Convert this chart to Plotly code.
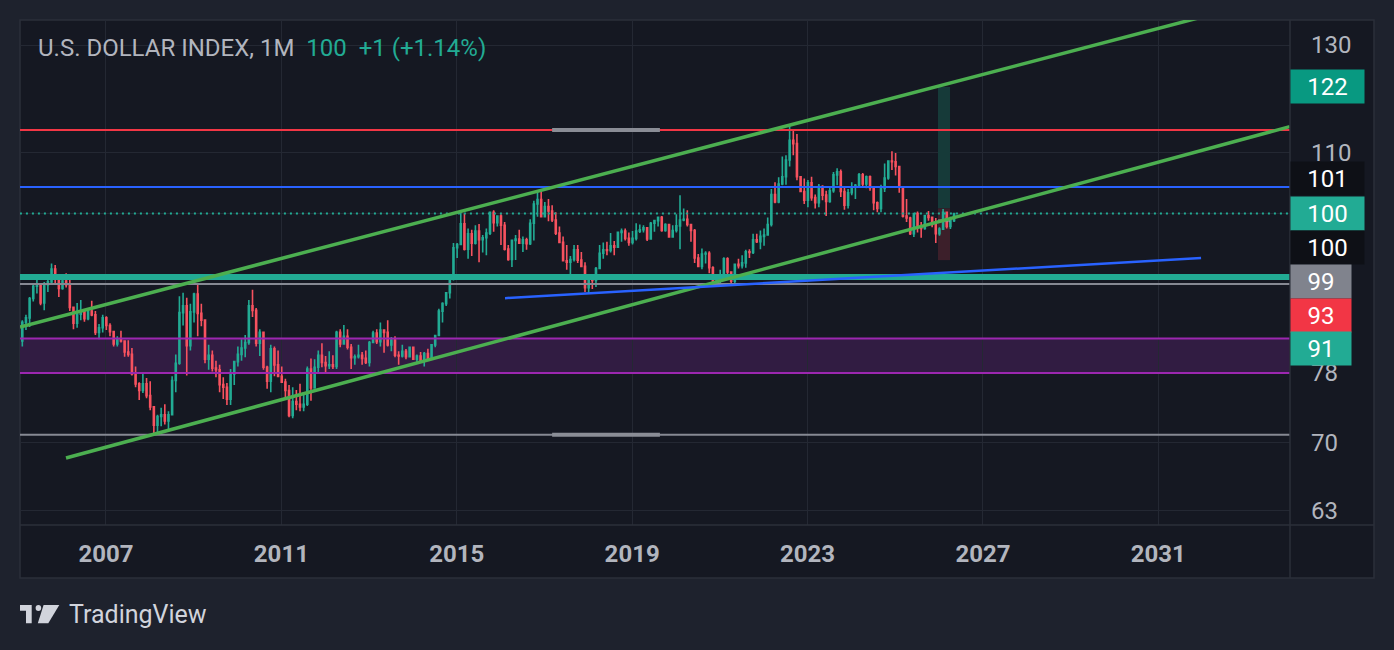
import math
import plotly.graph_objects as go

# ---------------- DATA ----------------
# Monthly candles of the U.S. Dollar Index (bar index: Jan 2005 = 0; first visible bar = Mar 2005)
FIRST_BAR_INDEX = 2
FIRST_OPEN = 82.0

closes = [
    # 2005 Mar-Dec
    84.4, 85.0, 87.6, 89.3, 89.6, 87.0, 89.5, 89.9, 91.7, 90.9,
    # 2006
    89.0, 90.0, 89.5, 86.4, 84.3, 85.5, 85.8, 84.9, 85.9, 85.4, 83.1, 83.7,
    # 2007
    85.0, 84.0, 83.2, 81.6, 82.2, 82.0, 80.6, 80.3, 77.9, 76.7, 75.9, 76.7,
    # 2008
    75.3, 74.0, 71.9, 72.9, 73.1, 72.4, 73.1, 77.1, 79.2, 85.7, 86.6, 81.4,
    # 2009
    85.8, 88.2, 85.6, 84.7, 79.7, 80.2, 78.6, 78.4, 76.6, 76.3, 74.9, 77.9,
    # 2010
    79.4, 80.3, 81.1, 81.8, 86.6, 86.0, 81.7, 83.1, 78.7, 77.0, 81.0, 79.0,
    # 2011
    77.6, 76.9, 75.9, 73.0, 74.6, 74.3, 74.0, 74.3, 78.5, 76.2, 78.7, 80.2,
    # 2012
    79.3, 78.9, 79.0, 78.8, 83.1, 81.6, 82.6, 81.2, 79.9, 80.0, 80.2, 79.8,
    # 2013
    79.3, 81.8, 83.0, 81.9, 83.4, 83.1, 81.5, 82.1, 80.2, 80.1, 80.7, 80.0,
    # 2014
    81.2, 79.7, 80.1, 79.5, 80.4, 79.8, 81.5, 82.7, 85.9, 86.9, 88.4, 90.3,
    # 2015
    94.8, 95.3, 98.4, 94.6, 96.9, 95.5, 97.3, 96.0, 96.3, 97.0, 100.2, 98.6,
    # 2016
    99.6, 98.2, 94.6, 93.1, 95.9, 96.1, 95.5, 96.0, 95.4, 98.5, 101.5, 102.2,
    # 2017
    99.5, 101.1, 100.4, 99.0, 97.0, 95.6, 92.9, 92.7, 93.1, 94.5, 93.0, 92.1,
    # 2018
    89.1, 90.6, 90.1, 91.8, 94.0, 94.5, 94.4, 95.1, 94.9, 97.1, 97.3, 96.2,
    # 2019
    95.6, 96.2, 97.3, 97.5, 97.8, 96.1, 98.5, 98.9, 99.4, 97.4, 98.3, 96.4,
    # 2020
    97.4, 98.1, 99.0, 99.1, 98.3, 97.4, 93.3, 92.1, 93.9, 94.0, 91.9, 89.9,
    # 2021
    90.6, 90.9, 93.2, 91.3, 90.0, 92.4, 92.2, 92.6, 94.2, 94.1, 96.0, 95.7,
    # 2022
    96.5, 96.7, 98.3, 103.0, 101.8, 104.7, 105.9, 108.7, 112.1, 111.5, 105.9, 103.5,
    # 2023
    102.1, 104.9, 102.5, 101.7, 104.3, 102.9, 101.9, 103.6, 106.2, 106.7, 103.5, 101.3,
    # 2024
    103.3, 104.2, 104.5, 106.2, 104.7, 105.9, 104.1, 101.7, 100.8, 104.0, 105.7, 108.5,
    # 2025
    108.4, 107.6, 104.2, 99.6, 99.3, 96.9, 100.0, 97.8, 97.7, 99.7, 99.4, 98.3,
    # 2026
    96.9, 97.6, 100.2, 98.0, 98.87, 100.0,
]

highs = [
    84.7, 85.4, 87.8, 89.5, 90.2, 89.7, 89.9, 90.2, 92.5, 92.3,
    91.0, 90.2, 91.1, 90.4, 86.5, 87.0, 87.4, 85.9, 86.3, 87.3, 85.9, 84.2,
    85.4, 85.2, 84.3, 83.2, 82.6, 83.3, 82.1, 82.1, 81.1, 78.8, 76.9, 77.9,
    77.4, 77.0, 74.1, 73.1, 73.9, 74.3, 73.5, 77.6, 80.3, 87.9, 88.4, 87.7,
    86.9, 88.4, 89.7, 86.9, 84.8, 81.5, 80.8, 79.5, 79.0, 77.5, 76.8, 78.5,
    79.5, 81.3, 82.2, 82.75, 87.4, 88.8, 86.3, 83.5, 83.2, 78.9, 81.5, 81.3,
    80.8, 78.8, 77.3, 76.55, 76.3, 75.96, 76.7, 75.7, 78.8, 79.8, 79.7, 80.8,
    81.7, 80.1, 80.7, 80.2, 83.3, 83.5, 84.05, 83.5, 81.6, 80.3, 81.5, 80.6,
    80.8, 82.0, 83.3, 83.5, 84.4, 83.4, 84.7, 82.5, 82.6, 80.7, 81.5, 80.97,
    81.3, 81.3, 80.3, 80.6, 80.6, 81.0, 81.6, 82.75, 86.2, 87.1, 88.5, 90.3,
    95.5, 95.5, 100.3, 100.0, 97.7, 97.5, 98.2, 98.4, 96.7, 97.7, 100.3, 100.5,
    99.75, 99.9, 98.7, 95.2, 95.9, 96.7, 97.5, 96.5, 96.3, 99.1, 102.0, 103.7,
    103.9, 101.8, 102.3, 101.3, 100.2, 98.0, 96.5, 95.2, 93.6, 95.2, 95.2, 94.2,
    92.7, 90.6, 90.9, 92.0, 95.2, 95.6, 95.7, 97.0, 95.8, 97.2, 97.7, 97.7,
    97.1, 97.3, 98.5, 98.3, 98.2, 97.8, 98.7, 99.0, 99.4, 99.6, 98.5, 98.4,
    98.2, 99.9, 102.9, 100.8, 100.5, 98.4, 97.6, 93.9, 94.7, 94.3, 94.3, 92.1,
    91.0, 91.6, 93.4, 93.4, 91.4, 92.5, 93.2, 93.7, 94.5, 94.6, 96.9, 96.9,
    97.4, 97.7, 99.4, 103.9, 105.0, 105.8, 109.3, 109.5, 114.8, 113.9, 113.2, 106.0,
    105.6, 105.35, 105.9, 103.0, 104.7, 104.5, 103.6, 104.4, 106.7, 107.3, 107.1, 104.2,
    103.9, 105.0, 104.7, 106.5, 106.5, 106.1, 106.1, 104.4, 101.9, 104.6, 108.1, 108.5,
    110.2, 109.9, 107.6, 104.4, 102.3, 99.5, 100.1, 100.3, 98.7, 99.8, 100.4, 99.5,
    99.3, 97.9, 100.7, 100.2, 99.5, 100.1,
]

lows = [
    81.3, 83.4, 83.8, 87.2, 88.3, 86.7, 86.0, 88.5, 89.7, 89.5,
    87.8, 88.8, 89.1, 85.9, 83.5, 83.7, 84.7, 84.5, 84.7, 85.2, 82.75, 82.2,
    83.1, 83.4, 82.6, 81.3, 81.3, 81.8, 80.0, 80.0, 77.7, 76.3, 74.8, 75.6,
    75.0, 73.6, 70.8, 71.1, 71.8, 72.0, 71.4, 73.0, 75.7, 79.0, 84.0, 77.7,
    80.8, 84.4, 82.6, 83.9, 79.2, 78.4, 78.2, 77.5, 75.7, 74.9, 74.2, 74.2,
    76.55, 78.8, 79.5, 79.95, 81.5, 85.1, 81.3, 80.1, 78.4, 76.1, 75.7, 77.6,
    77.5, 76.8, 75.1, 72.8, 72.7, 73.6, 73.5, 73.5, 74.1, 74.7, 76.1, 78.0,
    78.7, 78.1, 78.5, 78.5, 78.5, 81.2, 81.5, 80.9, 78.5, 79.0, 79.8, 79.0,
    79.1, 78.8, 81.7, 81.6, 81.3, 80.5, 81.3, 80.7, 79.95, 79.0, 79.9, 79.7,
    79.9, 79.6, 79.2, 79.3, 78.8, 79.6, 79.6, 81.2, 82.6, 84.4, 86.6, 87.6,
    90.1, 93.3, 95.2, 94.4, 93.2, 93.6, 95.3, 92.7, 94.1, 93.7, 96.7, 97.2,
    98.0, 95.2, 94.4, 92.9, 92.0, 93.0, 95.5, 94.2, 94.5, 95.2, 95.9, 99.5,
    99.4, 99.4, 98.8, 98.7, 96.7, 95.6, 92.8, 91.6, 90.9, 92.8, 92.6, 92.0,
    88.5, 88.3, 88.9, 89.2, 91.7, 93.2, 93.7, 94.1, 93.7, 94.8, 95.7, 95.9,
    95.1, 95.3, 95.9, 97.0, 97.1, 95.8, 96.0, 97.2, 98.0, 97.2, 97.2, 96.4,
    96.4, 97.1, 94.6, 98.8, 98.0, 95.7, 92.6, 92.0, 91.7, 92.5, 91.1, 89.5,
    89.2, 89.7, 90.6, 90.4, 89.5, 89.5, 91.8, 91.8, 91.9, 93.3, 93.9, 95.5,
    94.6, 95.1, 96.6, 98.0, 101.6, 101.6, 104.5, 104.6, 107.6, 109.5, 105.3, 103.4,
    101.5, 101.0, 102.0, 100.8, 101.0, 102.1, 99.6, 101.7, 103.3, 104.5, 102.6, 100.6,
    100.8, 102.9, 102.3, 104.1, 104.1, 104.0, 103.6, 100.5, 100.2, 100.2, 103.4, 105.4,
    107.0, 106.1, 103.3, 99.4, 98.7, 96.7, 96.4, 97.1, 96.3, 97.5, 98.9, 97.9,
    95.5, 96.6, 97.5, 97.7, 97.6, 98.7,
]

tick_years = [2007, 2011, 2015, 2019, 2023, 2027, 2031]
price_ticks = [63, 70, 78, 91, 100, 110, 130]
price_tick_text = ["63", "70", "78", "", "", "110", "130"]

# Drawings (bar index, price)
level_red = 113.9
level_blue = 104.2
level_teal_band = 90.57
level_gray_hi = 89.6
level_gray_lo = 70.85
zone_purple = (78.0, 82.3)
channel_upper_x, channel_upper_y = [1.37, 349.0], [83.8, 140.8]
channel_lower_x, channel_lower_y = [13.96, 348.9], [68.33, 114.5]
trend_blue_x, trend_blue_y = [134.1, 324.6], [87.65, 93.3]
handle_x = [147.0, 176.5]
long_x = (252.6, 255.9)
long_entry, long_target, long_stop = 100.8, 121.8, 93.0
long_marker = 98.9

# Price-scale labels (text, pixel centre y, background, width)
scale_labels = [
    ("122", 86, "#089981", 73),
    ("101", 179, "#0e1016", 73),
    ("100", 213, "#22ab94", 73),
    ("100", 248, "#0e1016", 73),
    ("99", 281, "#80838d", 60),
    ("93", 315, "#f23645", 60),
    ("91", 348, "#22ab94", 60),
]

# ---------------- STYLE ----------------
W, H = 1394, 650
PL, PR, PT, PB = 20, 1290, 20, 525     # plot area in pixels
PAGE_BG = "#1e222d"
CHART_BG = "#151822"
GRID = "#242833"
BORDER = "#2b2f3a"
TXT = "#b2b5be"
UP = "#22ab94"
DOWN = "#f7525f"
FONT = "Roboto"

XMIN, XMAX = 1.368, 348.94
YMIN, YMAX = 61.56, 135.18


def P(x, y):
    return (x - PL) / (PR - PL), (PB - y) / (PB - PT)


n = len(closes)
xs = [FIRST_BAR_INDEX + i for i in range(n)]
opens = [FIRST_OPEN] + closes[:-1]

fig = go.Figure()

FAR_L, FAR_R = -20, 400


def hline(level, color, width, dash="solid"):
    fig.add_trace(go.Scatter(x=[FAR_L, FAR_R], y=[level, level], mode="lines",
                             line=dict(color=color, width=width, dash=dash),
                             hoverinfo="skip", showlegend=False))


fig.add_trace(go.Candlestick(
    x=xs, open=opens, high=highs, low=lows, close=closes,
    increasing=dict(line=dict(color=UP, width=1.6), fillcolor=UP),
    decreasing=dict(line=dict(color=DOWN, width=1.6), fillcolor=DOWN),
    whiskerwidth=0, hoverinfo="skip", showlegend=False))

# horizontal levels
hline(zone_purple[0], "#9c27b0", 2)
hline(zone_purple[1], "#9c27b0", 2)
hline(level_red, "#f23645", 2)
hline(level_blue, "#2962ff", 2)
hline(level_teal_band, "#22ab94", 6)
hline(level_gray_hi, "#868993", 2)
hline(level_gray_lo, "#868993", 2)
hline(closes[-1], UP, 2, dash="2px,4px")

# short thick grey handles
for lvl in (level_red, level_gray_lo):
    fig.add_trace(go.Scatter(x=handle_x, y=[lvl, lvl], mode="lines",
                             line=dict(color="#8a8d96", width=4),
                             hoverinfo="skip", showlegend=False))
# marker inside position tool
fig.add_trace(go.Scatter(x=list(long_x), y=[long_marker, long_marker], mode="lines",
                         line=dict(color="rgba(160,163,172,0.55)", width=3),
                         hoverinfo="skip", showlegend=False))

# channel and trend lines
for lx, ly, col, w in ((channel_upper_x, channel_upper_y, "#4caf50", 3.5),
                       (channel_lower_x, channel_lower_y, "#4caf50", 3.5),
                       (trend_blue_x, trend_blue_y, "#2962ff", 2.5)):
    fig.add_trace(go.Scatter(x=lx, y=ly, mode="lines", line=dict(color=col, width=w),
                             hoverinfo="skip", showlegend=False))

# ---------------- LAYOUT ----------------
tickvals_x = [12 * (y - 2005) + 0.9 for y in tick_years]

shapes = []
fx0, fy0 = P(20, 578)
fx1, fy1 = P(1374, 20)
shapes.append(dict(type="rect", xref="paper", yref="paper", x0=fx0, y0=fy0, x1=fx1, y1=fy1,
                   fillcolor=CHART_BG, line=dict(color=BORDER, width=1.5), layer="below"))
# zones drawn between grid and candles
shapes.append(dict(type="rect", xref="paper", yref="y", x0=0, x1=1,
                   y0=zone_purple[0], y1=zone_purple[1], fillcolor="#311c42",
                   line=dict(width=0), layer="between"))
shapes.append(dict(type="rect", xref="x", yref="y", x0=long_x[0], x1=long_x[1],
                   y0=long_entry, y1=long_target, fillcolor="#163a39",
                   line=dict(width=0), layer="between"))
shapes.append(dict(type="rect", xref="x", yref="y", x0=long_x[0], x1=long_x[1],
                   y0=long_stop, y1=long_entry, fillcolor="#3c1f2a",
                   line=dict(width=0), layer="between"))

a = P(1290, 20); b = P(1290, 578)
shapes.append(dict(type="line", xref="paper", yref="paper", x0=a[0], y0=a[1], x1=b[0], y1=b[1],
                   line=dict(color=BORDER, width=1.5)))
a = P(20, 525); b = P(1374, 525)
shapes.append(dict(type="line", xref="paper", yref="paper", x0=a[0], y0=a[1], x1=b[0], y1=b[1],
                   line=dict(color=BORDER, width=1.5)))


def path(points):
    s = ""
    for i, (px, py) in enumerate(points):
        x, y = P(px, py)
        s += ("M" if i == 0 else "L") + f"{x:.5f},{y:.5f} "
    return s + "Z"


LOGO = "#d1d4dc"
shapes.append(dict(type="path", xref="paper", yref="paper", fillcolor=LOGO, line=dict(width=0),
                   path=path([(20, 605), (31.7, 605), (31.7, 623.3), (26, 623.3), (26, 610.7), (20, 610.7)])))
c0 = P(35.6, 611); c1 = P(41.2, 605)
shapes.append(dict(type="circle", xref="paper", yref="paper", x0=c0[0], y0=c0[1], x1=c1[0], y1=c1[1],
                   fillcolor=LOGO, line=dict(width=0)))
shapes.append(dict(type="path", xref="paper", yref="paper", fillcolor=LOGO, line=dict(width=0),
                   path=path([(43.6, 605), (59.3, 605), (48.3, 623.3), (37.8, 623.3)])))

annotations = []
last, prev = closes[-1], closes[-2]
chg = last - prev
pct = chg / prev * 100
hx, hy = P(36, 48)
annotations.append(dict(
    xref="paper", yref="paper", x=hx, y=hy, xanchor="left", yanchor="middle", showarrow=False,
    text=(f"U.S. DOLLAR INDEX, 1M\u00a0\u00a0<span style='color:{UP}'>{last:.0f}\u00a0\u00a0"
          f"{chg:+.0f} ({pct:+.2f}%)</span>"),
    font=dict(family=FONT, size=24, color=TXT)))

for txt, py, bg, wdt in scale_labels:
    lx, ly = P(1290, py)
    annotations.append(dict(
        xref="paper", yref="paper", x=lx, y=ly, xanchor="left", yanchor="middle", showarrow=False,
        text=txt, width=wdt, height=33, align="center", valign="middle", bgcolor=bg, borderpad=0,
        font=dict(family=FONT, size=24, color="#ffffff")))

tx, ty = P(67, 614)
annotations.append(dict(xref="paper", yref="paper", x=tx, y=ty, xanchor="left", yanchor="middle",
                        showarrow=False, text="TradingView",
                        font=dict(family=FONT, size=25, color=LOGO)))

fig.update_layout(
    width=W, height=H,
    margin=dict(l=PL, r=W - PR, t=PT, b=H - PB, pad=0),
    paper_bgcolor=PAGE_BG, plot_bgcolor=CHART_BG,
    showlegend=False, hovermode=False,
    boxgap=0.6, boxgroupgap=0.3,
    shapes=shapes, annotations=annotations,
    xaxis=dict(range=[XMIN, XMAX], tickmode="array", tickvals=tickvals_x,
               ticktext=[str(y) for y in tick_years], showgrid=True, gridcolor=GRID, gridwidth=1,
               zeroline=False, showline=False, ticks="", ticklabelstandoff=12,
               tickfont=dict(family=FONT, size=24, color=TXT, weight="bold"),
               rangeslider=dict(visible=False), fixedrange=True),
    yaxis=dict(type="log", range=[math.log10(YMIN), math.log10(YMAX)], side="right",
               tickmode="array", tickvals=price_ticks, ticktext=price_tick_text,
               showgrid=True, gridcolor=GRID, gridwidth=1, zeroline=False, showline=False,
               ticks="", ticklabelstandoff=20,
               tickfont=dict(family=FONT, size=24, color=TXT), fixedrange=True),
)

fig.write_html(
    "out.html",
    config={"displayModeBar": False, "staticPlot": True},
    post_script=(f"document.body.style.margin='0';document.body.style.padding='0';"
                 f"document.body.style.background='{PAGE_BG}';"
                 f"document.documentElement.style.background='{PAGE_BG}';"),
)
